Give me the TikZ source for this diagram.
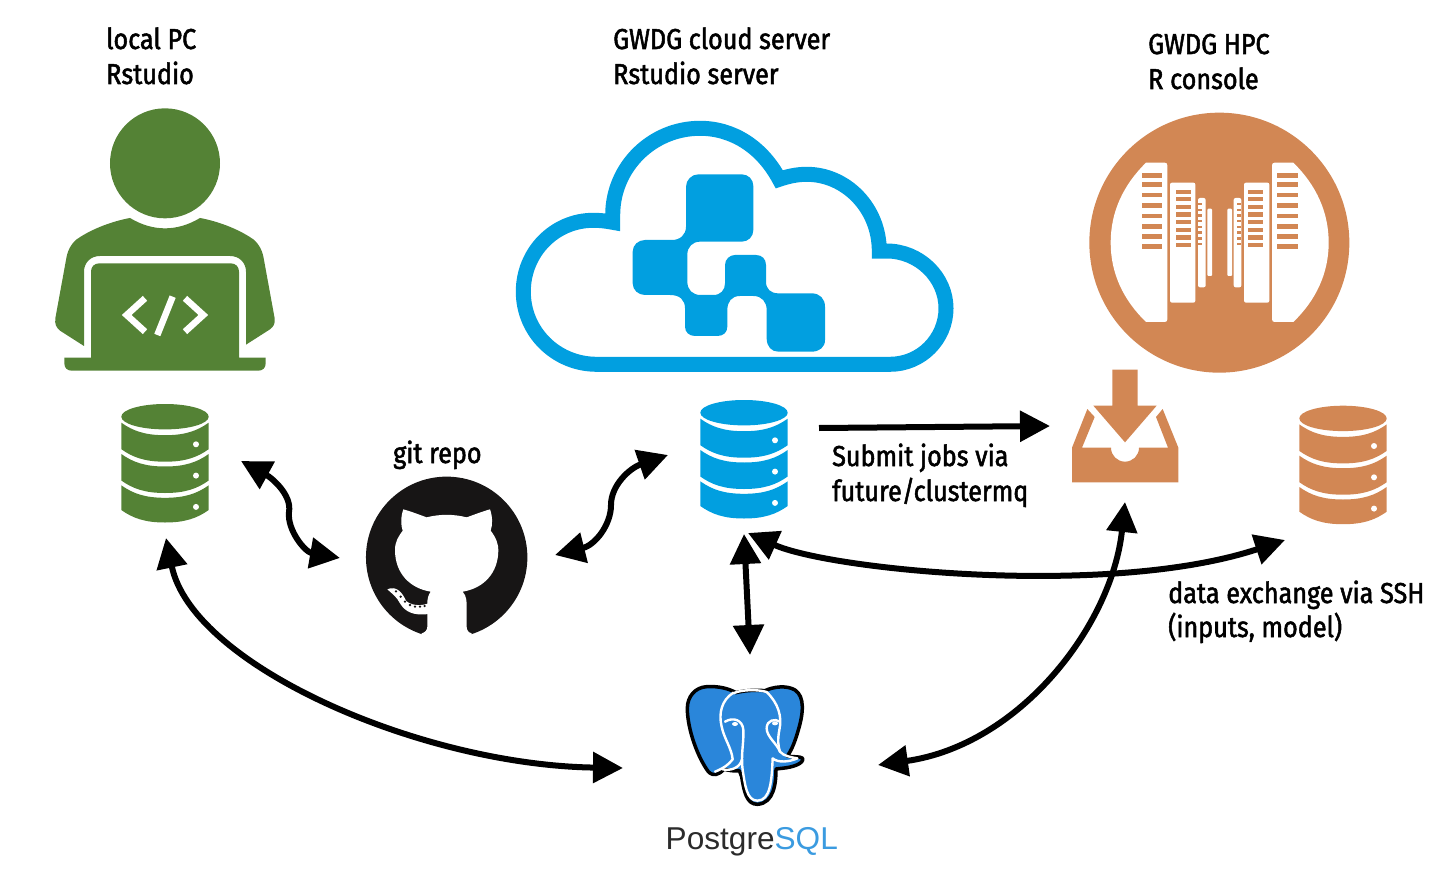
\documentclass[tikz,border=0pt]{standalone}
\usepackage{fontspec}
\usetikzlibrary{arrows.meta}
\setmainfont[FakeStretch=0.875,FakeBold=1.8]{Fira Sans}
\newfontfamily\pgfont{Liberation Sans}
\definecolor{grn}{HTML}{548235}
\definecolor{blu}{HTML}{019FE0}
\definecolor{org}{HTML}{D28754}
\definecolor{pgb}{HTML}{2A86DA}
\definecolor{pgt}{HTML}{3B9BE0}
\definecolor{ghb}{HTML}{171515}
\tikzset{
  lbl/.style={anchor=base west,inner sep=0pt,font=\fontsize{28.8}{29}\selectfont,text=black},
  dblarrow/.style={line width=6pt,{Triangle[length=30pt,width=30pt]}-{Triangle[length=30pt,width=30pt]}},
  onearrow/.style={line width=6pt,-{Triangle[length=30pt,width=30pt]}},
  zoomed/.style={x=0.33333pt,y=-0.33333pt},
}
\newcommand{\dbicon}[3]{%
 \begin{scope}[shift={(#1,#2)}]
  \fill[#3] (0,12.7) ellipse[x radius=43.7pt,y radius=12.7pt];
  \foreach \k/\h in {0/26.5,31.3/26.5,62.6/24.7}{
   \fill[#3] (-43.7,18.7+\k) .. controls (-32,27+\k) and (-20,31.2+\k) .. (0,31.2+\k)
     .. controls (20,31.2+\k) and (32,27+\k) .. (43.7,18.7+\k)
     -- (43.7,18.7+\k+\h) .. controls (32,27+\k+\h) and (20,31.2+\k+\h) .. (0,31.2+\k+\h)
     .. controls (-20,31.2+\k+\h) and (-32,27+\k+\h) .. (-43.7,18.7+\k+\h) -- cycle;
   \fill[white] (31,40.3+\k) circle[radius=3pt];
  }
 \end{scope}}
\begin{document}
\begin{tikzpicture}[x=1pt,y=-1pt]
\useasboundingbox (0,0) rectangle (1447,877);
% person
\begin{scope}[shift={(40,100)},zoomed]
 \fill[grn] (375,190) circle[radius=55pt];
 \fill[grn] (270,354) .. controls (305,375) and (340,385) .. (375,385) .. controls (410,385) and (445,375) .. (480,354)
   .. controls (540,365) and (600,390) .. (640,418) .. controls (660,435) and (668,455) .. (672,480)
   -- (704,655) .. controls (706,672) and (700,680) .. (690,688) -- (618,734) -- (618,515)
   .. controls (618,488) and (598,468) .. (570,468) -- (180,468) .. controls (152,468) and (132,488) .. (132,515)
   -- (132,738) -- (60,692) .. controls (48,682) and (44,672) .. (46,655) -- (78,480)
   .. controls (82,455) and (90,435) .. (110,418) .. controls (150,390) and (210,365) .. (270,354) -- cycle;
 \fill[grn] (153,515) .. controls (153,500) and (163,490) .. (178,490) -- (572,490) .. controls (587,490) and (597,500) .. (597,515)
   -- (597,773) -- (677,773) -- (677,790) .. controls (677,804) and (668,812) .. (655,812) -- (95,812)
   .. controls (82,812) and (73,804) .. (73,790) -- (73,773) -- (153,773) -- cycle;
 \draw[white,line width=6.5pt,miter limit=10] (315,595) -- (260,645) -- (315,695);
 \draw[white,line width=6.5pt,miter limit=10] (435,595) -- (490,645) -- (435,695);
 \draw[white,line width=6.5pt] (398,590) -- (352,705);
\end{scope}
% cloud
\draw[blu,line width=15pt,line join=miter,miter limit=10]
  (596.7,364.3) -- (890,364.3) .. controls (921,364.3) and (946,339) .. (946,308.3)
  .. controls (946,277) and (919,251) .. (886.7,251) -- (879.3,251)
  .. controls (879.3,208) and (846,174.3) .. (806.7,174.3)
  .. controls (797,174.3) and (788,176.3) .. (779.3,179.3)
  .. controls (762,147) and (733,128.3) .. (700,128.3)
  .. controls (652,128.3) and (612.7,167) .. (612.7,215) -- (612.7,222.3)
  .. controls (606,221) and (600,220.3) .. (593.3,220.3)
  .. controls (554.6,220.3) and (523.3,252) .. (523.3,291.7)
  .. controls (523.3,332) and (556,364.3) .. (596.7,364.3) -- cycle;
\begin{scope}[shift={(510,115)},zoomed]
 \fill[blu] (528,215) .. controls (528,195) and (545,178) .. (565,178) -- (695,178)
  .. controls (715,178) and (730,193) .. (730,213) -- (730,345) .. controls (730,365) and (715,380) .. (695,380)
  -- (570,380) .. controls (548,380) and (532,396) .. (532,418) -- (532,500) .. controls (532,525) and (548,540) .. (572,540)
  -- (610,540) .. controls (632,540) and (645,525) .. (645,505) -- (645,450) .. controls (645,432) and (660,420) .. (675,420)
  -- (738,420) .. controls (756,420) and (768,432) .. (768,450) -- (768,500) .. controls (768,522) and (782,535) .. (805,535)
  -- (905,535) .. controls (930,535) and (945,552) .. (945,575) -- (945,675) .. controls (945,697) and (928,710) .. (905,710)
  -- (805,710) .. controls (785,710) and (770,695) .. (770,670) -- (770,585) .. controls (770,560) and (755,543) .. (730,543)
  -- (690,543) .. controls (665,543) and (652,560) .. (652,585) -- (652,635) .. controls (652,652) and (640,663) .. (622,663)
  -- (555,663) .. controls (538,663) and (525,652) .. (525,635) -- (525,580) .. controls (525,555) and (510,540) .. (480,540)
  -- (405,540) .. controls (385,540) and (368,525) .. (368,505) -- (368,410) .. controls (368,390) and (385,375) .. (405,375)
  -- (485,375) .. controls (510,375) and (528,360) .. (528,335) -- cycle;
\end{scope}
% HPC
\begin{scope}[shift={(1070,100)},zoomed]
 \fill[org] (448,428) circle[radius=130pt];
 \foreach \m/\sx in {0/1,898/-1}{
 \begin{scope}[shift={(\m,0)},xscale=\sx]
  \fill[white] (228,188) -- (284,188) .. controls (289,188) and (292,191) .. (292,196) -- (292,658)
    .. controls (292,663) and (289,666) .. (284,666) -- (228,666) .. controls (160,600) and (122,520) .. (122,428)
    .. controls (122,335) and (160,255) .. (228,188) -- cycle;
  \fill[white,rounded corners=2pt] (300,248) rectangle (376,608);
  \fill[white,rounded corners=2pt] (384,294) rectangle (407,562);
  \fill[white,rounded corners=1pt] (412,326) rectangle (426,528);
  \foreach \y in {226,254,285,316,348,379,409,440} \fill[org] (215,\y-7) rectangle (276,\y+7);
  \foreach \y in {277,297,322,344,367,390,413,436} \fill[org] (318,\y-6.5) rectangle (364,\y+6.5);
  \foreach \y in {313,330,347,364,381,398,416,433} \fill[org] (384,\y-3.5) rectangle (397,\y+3.5);
 \end{scope}}
\end{scope}
% inbox
\begin{scope}[shift={(1060,365)},zoomed]
 \fill[org] (157,14) -- (233,14) -- (233,122) -- (290,122) -- (195,232) -- (100,122) -- (157,122) -- cycle;
 \fill[org] (36,248) -- (82,132) -- (104,156) -- (66,248) -- (153,248) .. controls (153,272) and (172,290) .. (195,290)
   .. controls (218,290) and (237,272) .. (237,248) -- (324,248) -- (288,156) -- (308,132) -- (355,248) -- (355,352) -- (36,352) -- cycle;
\end{scope}
% databases
\dbicon{165}{404}{grn}
\dbicon{744}{400}{blu}
\dbicon{1343}{405.7}{org}
% github
\begin{scope}[shift={(350,470)},zoomed]
 \fill[ghb] (290,262) circle[radius=80.7pt];
 \fill[white] (160,118) .. controls (185,125) and (210,135) .. (230,142) .. controls (270,132) and (310,132) .. (350,142)
  .. controls (370,135) and (395,125) .. (420,118) .. controls (428,140) and (428,165) .. (422,182)
  .. controls (440,205) and (445,225) .. (445,240) .. controls (445,310) and (400,355) .. (338,365)
  .. controls (350,378) and (350,395) .. (350,410) -- (350,470) .. controls (350,480) and (355,488) .. (365,490) -- (365,520)
  -- (215,520) -- (215,490) .. controls (225,488) and (232,480) .. (232,470) -- (232,400) .. controls (232,385) and (235,375) .. (242,365)
  .. controls (180,355) and (135,310) .. (135,240) .. controls (135,215) and (145,200) .. (158,182)
  .. controls (152,165) and (152,140) .. (160,118) -- cycle;
 \fill[white] (112,358) .. controls (140,345) and (158,370) .. (168,392) .. controls (180,405) and (210,410) .. (235,400)
  -- (235,432) .. controls (190,438) and (165,425) .. (150,400) .. controls (140,380) and (125,370) .. (112,358) -- cycle;
 \foreach \p in {(138,364),(152,380),(165,395),(180,405),(195,410),(210,410),(224,408)} \fill[ghb] \p circle[radius=1.3pt];
\end{scope}
% postgres
\begin{scope}[shift={(650,670)},zoomed]
 \filldraw[fill=pgb,draw=black,line width=3.5pt,line join=round]
  (170,50) .. controls (205,48) and (235,55) .. (258,68) .. controls (290,60) and (320,60) .. (345,62)
  .. controls (370,50) and (410,45) .. (435,60) .. controls (465,80) and (460,130) .. (445,180)
  .. controls (435,215) and (425,240) .. (412,258) .. controls (430,262) and (450,258) .. (458,265)
  .. controls (462,280) and (430,292) .. (395,295) -- (378,297) .. controls (378,340) and (372,400) .. (322,403)
  .. controls (290,403) and (282,365) .. (275,320) -- (268,302) .. controls (250,305) and (235,300) .. (222,298)
  .. controls (205,315) and (190,320) .. (175,305) .. controls (145,265) and (112,180) .. (112,115)
  .. controls (112,80) and (135,52) .. (170,50) -- cycle;
 \draw[white,line width=2.4pt,line cap=round,line join=round]
  (250,68) .. controls (215,90) and (205,130) .. (215,170) .. controls (222,205) and (245,235) .. (248,268)
  .. controls (235,285) and (220,295) .. (195,305);
 \draw[white,line width=2.4pt,line cap=round,line join=round]
  (225,155) .. controls (250,140) and (278,150) .. (280,180) .. controls (282,220) and (272,250) .. (278,300)
  .. controls (285,345) and (290,392) .. (322,392) .. controls (362,392) and (365,330) .. (368,265)
  .. controls (385,280) and (420,275) .. (442,265) .. controls (425,262) and (400,258) .. (390,245)
  .. controls (380,220) and (350,200) .. (350,175) .. controls (350,150) and (375,145) .. (390,155);
 \draw[white,line width=2.4pt,line cap=round]
  (250,70) .. controls (275,58) and (325,58) .. (350,66) .. controls (385,100) and (397,140) .. (388,180)
  .. controls (382,210) and (385,230) .. (390,245);
 \draw[white,line width=2.4pt,line cap=round]
  (218,298) .. controls (240,303) and (270,295) .. (276,268);
 \fill[white] (255,162) ellipse[x radius=3pt,y radius=2pt];
 \fill[white] (375,160) ellipse[x radius=3pt,y radius=2pt];
\end{scope}
\node[anchor=base west,inner sep=0pt,font=\pgfont\fontsize{31.6}{32}\selectfont] (pgsql) at (665.5,849) {\textcolor[HTML]{2B2B2B}{Postgre}\textcolor{pgt}{SQL}};
% labels
\node[lbl] (t1) at (106,49) {local PC};
\node[lbl] (t2) at (106,84) {Rstudio};
\node[lbl] (t3) at (613,49) {GWDG cloud server};
\node[lbl] (t4) at (613,84) {Rstudio server};
\node[lbl] (t5) at (1148,54) {GWDG HPC};
\node[lbl] (t6) at (1148,89) {R console};
\node[lbl] (t7) at (393,463) {git repo};
\node[lbl] (t8) at (832,466) {Submit jobs via};
\node[lbl] (t9) at (832,501) {future/clustermq};
\node[lbl] (t10) at (1168,603) {data exchange via SSH};
\node[lbl] (t11) at (1168,637) {(inputs, model)};
% connector ends
\coordinate (localdb) at (241,461);
\coordinate (gitL) at (340,558);
\coordinate (gitR) at (555,555);
\coordinate (clouddbL) at (668,455);
\coordinate (submitS) at (819,428);
\coordinate (inbox) at (1050,426);
\coordinate (clouddbB) at (748,533);
\coordinate (hpcdb) at (1285,540);
\coordinate (clouddbV) at (744,534);
\coordinate (pgT) at (750,655);
\coordinate (localdbB) at (166,538);
\coordinate (pgL) at (623,768);
\coordinate (inboxB) at (1125,502);
\coordinate (pgR) at (878,765);
% connectors
\draw[dblarrow] (localdb) .. controls (272,478) and (292,495) .. (289,512) .. controls (287,530) and (305,552) .. (gitL);
\draw[dblarrow] (gitR) .. controls (595,545) and (611,525) .. (611,505) .. controls (611,485) and (630,468) .. (clouddbL);
\draw[onearrow] (submitS) -- (inbox);
\draw[dblarrow] (clouddbB) .. controls (830,570) and (1110,598) .. (hpcdb);
\draw[dblarrow] (clouddbV) -- (pgT);
\draw[dblarrow] (localdbB) .. controls (192,665) and (420,765) .. (pgL);
\draw[dblarrow] (inboxB) .. controls (1112,625) and (1020,745) .. (pgR);
\end{tikzpicture}
\end{document}
